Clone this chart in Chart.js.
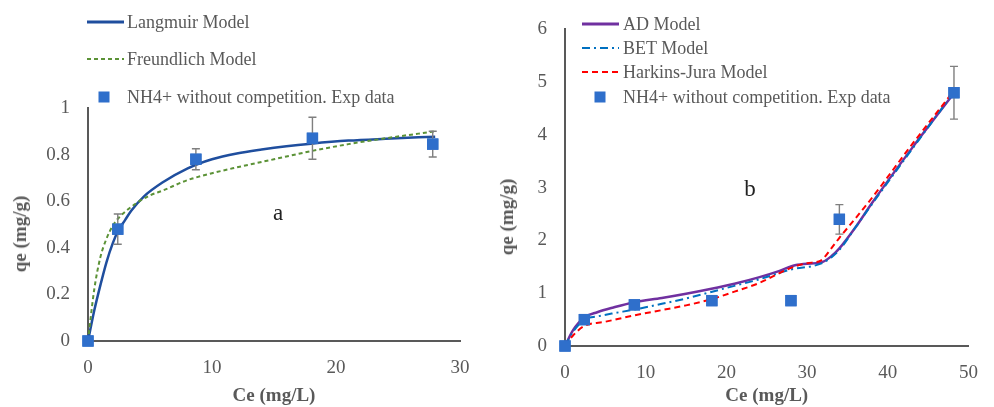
<!DOCTYPE html>
<html lang="en">
<head>
<meta charset="UTF-8">
<title>Isotherms</title>
<script src="https://cdn.jsdelivr.net/npm/chart.js"></script>
<style>
  body { margin: 0; background: #fff; }
  #page { position: relative; width: 994px; height: 407px; overflow: hidden; font-family: 'Liberation Serif', serif; }
  .box { position: absolute; top: 0; height: 407px; }
  .lg { position: absolute; display: flex; align-items: center; height: 22px; font-size: 18px; color: #595959; white-space: nowrap; }
  .lg svg { display: block; }
  .ytitle { position: absolute; font-size: 19px; font-weight: bold; color: #595959; white-space: nowrap; transform: translate(-50%, -50%) rotate(-90deg); }
  .tag { position: absolute; font-size: 23px; color: #222; transform: translate(-50%, -50%); }
</style>
</head>
<body>
<div id="page">
  <div class="box" style="left:0;width:490px"><canvas id="chartA"></canvas></div>
  <div class="box" style="left:490px;width:504px"><canvas id="chartB"></canvas></div>

  <div class="ytitle" style="left:20px;top:234px">qe (mg/g)</div>
  <div class="ytitle" style="left:507px;top:217px">qe (mg/g)</div>
  <div class="tag" style="left:278px;top:213px">a</div>
  <div class="tag" style="left:750px;top:189px">b</div>

  <!-- legend a -->
  <div class="lg" style="left:87px;top:11px"><svg width="40" height="22"><line x1="0" y1="11" x2="37" y2="11" stroke="#1F4E9E" stroke-width="3"/></svg><span>Langmuir Model</span></div>
  <div class="lg" style="left:87px;top:48px"><svg width="40" height="22"><line x1="0" y1="11" x2="37" y2="11" stroke="#5B9236" stroke-width="2" stroke-dasharray="4 3"/></svg><span>Freundlich Model</span></div>
  <div class="lg" style="left:87px;top:86px"><svg width="40" height="22"><rect x="11.5" y="5.5" width="11" height="11" fill="#2F6FCB"/></svg><span>NH4+ without competition. Exp data</span></div>

  <!-- legend b -->
  <div class="lg" style="left:582px;top:13px"><svg width="41" height="22"><line x1="0" y1="11" x2="37" y2="11" stroke="#7030A0" stroke-width="3"/></svg><span>AD Model</span></div>
  <div class="lg" style="left:582px;top:37px"><svg width="41" height="22"><line x1="0" y1="11" x2="37" y2="11" stroke="#0070C0" stroke-width="2" stroke-dasharray="8 4 2 4"/></svg><span>BET Model</span></div>
  <div class="lg" style="left:582px;top:61px"><svg width="41" height="22"><line x1="0" y1="11" x2="37" y2="11" stroke="#FF0000" stroke-width="2" stroke-dasharray="6 4"/></svg><span>Harkins-Jura Model</span></div>
  <div class="lg" style="left:582px;top:86px"><svg width="41" height="22"><rect x="12.5" y="5.5" width="11" height="11" fill="#2F6FCB"/></svg><span>NH4+ without competition. Exp data</span></div>
</div>

<script>
  // ---- panel a : Langmuir / Freundlich ----
  const expCeA = [0, 2.4, 8.7, 18.1, 27.8];
  const expQeA = [0, 0.48, 0.78, 0.87, 0.845];
  const expErrA = [0, 0.065, 0.045, 0.09, 0.055];

  const langmuirCe = [0, 0.5, 1, 1.5, 2, 2.4, 3, 3.5, 4.5, 6, 8, 10, 12, 14, 16, 18, 21, 24, 28];
  const langmuirQe = [0, 0.13, 0.24, 0.34, 0.42, 0.47, 0.52, 0.56, 0.62, 0.68, 0.74, 0.78, 0.805, 0.822, 0.836, 0.847, 0.86, 0.868, 0.877];

  const freundlichCe = [0, 0.5, 1, 1.5, 2, 2.5, 3, 4, 5, 6, 8, 10, 12, 15, 18, 21, 24, 28];
  const freundlichQe = [0, 0.22, 0.36, 0.44, 0.495, 0.53, 0.555, 0.595, 0.625, 0.645, 0.69, 0.72, 0.745, 0.78, 0.815, 0.845, 0.87, 0.9];

  // ---- panel b : AD / BET / Harkins-Jura ----
  const expCeB = [0, 2.4, 8.6, 18.2, 28, 34, 48.2];
  const expQeB = [0, 0.5, 0.78, 0.86, 0.86, 2.4, 4.8];
  const expErrB = [0, 0, 0, 0, 0, 0.28, 0.5];

  const adCe = [0, 1, 2.4, 4, 6, 8.6, 12, 15, 18, 21, 24, 26.5, 28.5, 30, 31.7, 33, 34, 36, 38, 43, 48];
  const adQe = [0, 0.3, 0.54, 0.64, 0.73, 0.83, 0.91, 0.99, 1.08, 1.18, 1.3, 1.42, 1.53, 1.56, 1.58, 1.7, 1.85, 2.25, 2.7, 3.75, 4.75];

  const betCe = [0, 1, 2.4, 4, 6, 8.6, 12, 15, 18, 21, 24, 28, 31.7, 33, 34, 36, 38, 43, 48];
  const betQe = [0, 0.27, 0.5, 0.56, 0.62, 0.69, 0.8, 0.9, 1.02, 1.14, 1.26, 1.45, 1.56, 1.68, 1.82, 2.25, 2.68, 3.73, 4.77];

  const hjCe = [0, 1, 2.4, 5, 8.6, 12, 15, 18, 21, 24, 28, 30, 31.7, 33, 34, 36, 38, 43, 48];
  const hjQe = [0, 0.2, 0.38, 0.46, 0.58, 0.68, 0.77, 0.88, 1.03, 1.19, 1.48, 1.57, 1.62, 1.85, 2.05, 2.42, 2.8, 3.82, 4.8];

  const grey = '#595959';
  const squareBlue = '#2F6FCB';

  function pts(xs, ys) {
    return xs.map((v, i) => ({ x: v, y: ys[i] }));
  }

  // error bars drawn through the chart's own scales
  const errorBars = {
    id: 'errorBars',
    afterDatasetsDraw(chart, args, opts) {
      if (!opts.errors) return;
      const ctx = chart.ctx;
      const xs = chart.scales.x, ys = chart.scales.y;
      ctx.save();
      ctx.strokeStyle = '#7f7f7f';
      ctx.lineWidth = 1.4;
      opts.ce.forEach((c, i) => {
        const e = opts.errors[i];
        if (!e) return;
        const px = xs.getPixelForValue(c);
        const top = ys.getPixelForValue(opts.qe[i] + e);
        const bot = ys.getPixelForValue(opts.qe[i] - e);
        ctx.beginPath();
        ctx.moveTo(px, top); ctx.lineTo(px, bot);
        ctx.moveTo(px - 4, top); ctx.lineTo(px + 4, top);
        ctx.moveTo(px - 4, bot); ctx.lineTo(px + 4, bot);
        ctx.stroke();
      });
      // markers again on top of the bars
      const meta = chart.getDatasetMeta(opts.markerIndex);
      meta.data.forEach(p => p.draw(ctx, undefined));
      ctx.restore();
    }
  };

  function lineSet(data, color, width, dash) {
    return {
      type: 'scatter', data: data, showLine: true, borderColor: color, borderWidth: width,
      borderDash: dash, pointRadius: 0, cubicInterpolationMode: 'monotone', clip: false, fill: false
    };
  }

  function makeScales(xMax, xStep, yMax, yStep, yWidth, xHeight) {
    const tickFont = { family: 'Liberation Serif', size: 19 };
    return {
      x: {
        type: 'linear', min: 0, max: xMax,
        ticks: { stepSize: xStep, color: grey, font: tickFont, padding: 16 },
        grid: { display: false, drawTicks: false },
        border: { display: true, color: grey, width: 2 },
        title: { display: true, text: 'Ce (mg/L)', color: grey, font: { family: 'Liberation Serif', size: 19, weight: 'bold' }, padding: 0 },
        afterFit: s => { s.height = xHeight; }
      },
      y: {
        type: 'linear', min: 0, max: yMax,
        ticks: { stepSize: yStep, color: grey, font: tickFont, padding: 18,
                 callback: v => String(Number(v.toFixed(2))) },
        grid: { display: false, drawTicks: false },
        border: { display: true, color: grey, width: 2 },
        afterFit: s => { s.width = yWidth; }
      }
    };
  }

  Chart.defaults.font.family = 'Liberation Serif';

  new Chart(document.getElementById('chartA'), {
    type: 'scatter',
    data: {
      datasets: [
        lineSet(pts(freundlichCe, freundlichQe), '#5B9236', 2, [4, 3]),
        lineSet(pts(langmuirCe, langmuirQe), '#1F4E9E', 2.5, []),
        {
          type: 'scatter', data: pts(expCeA, expQeA), pointStyle: 'rect', pointRadius: 8,
          backgroundColor: squareBlue, borderColor: squareBlue, borderWidth: 0, clip: false
        }
      ]
    },
    options: {
      responsive: true, maintainAspectRatio: false, animation: false,
      layout: { padding: { left: 0, right: 30, top: 108, bottom: 0 } },
      plugins: {
        legend: { display: false }, tooltip: { enabled: false },
        errorBars: { ce: expCeA, qe: expQeA, errors: expErrA, markerIndex: 2 }
      },
      scales: makeScales(30, 10, 1, 0.2, 88, 66)
    },
    plugins: [errorBars]
  });

  new Chart(document.getElementById('chartB'), {
    type: 'scatter',
    data: {
      datasets: [
        lineSet(pts(hjCe, hjQe), '#FF0000', 2, [6, 4]),
        lineSet(pts(betCe, betQe), '#0070C0', 2, [8, 4, 2, 4]),
        lineSet(pts(adCe, adQe), '#7030A0', 2.5, []),
        {
          type: 'scatter', data: pts(expCeB, expQeB), pointStyle: 'rect', pointRadius: 8,
          backgroundColor: squareBlue, borderColor: squareBlue, borderWidth: 0, clip: false
        }
      ]
    },
    options: {
      responsive: true, maintainAspectRatio: false, animation: false,
      layout: { padding: { left: 0, right: 11, top: 24, bottom: 0 } },
      plugins: {
        legend: { display: false }, tooltip: { enabled: false },
        errorBars: { ce: expCeB, qe: expQeB, errors: expErrB, markerIndex: 3 }
      },
      scales: makeScales(50, 10, 6, 1, 75, 61)
    },
    plugins: [errorBars]
  });
</script>
</body>
</html>
